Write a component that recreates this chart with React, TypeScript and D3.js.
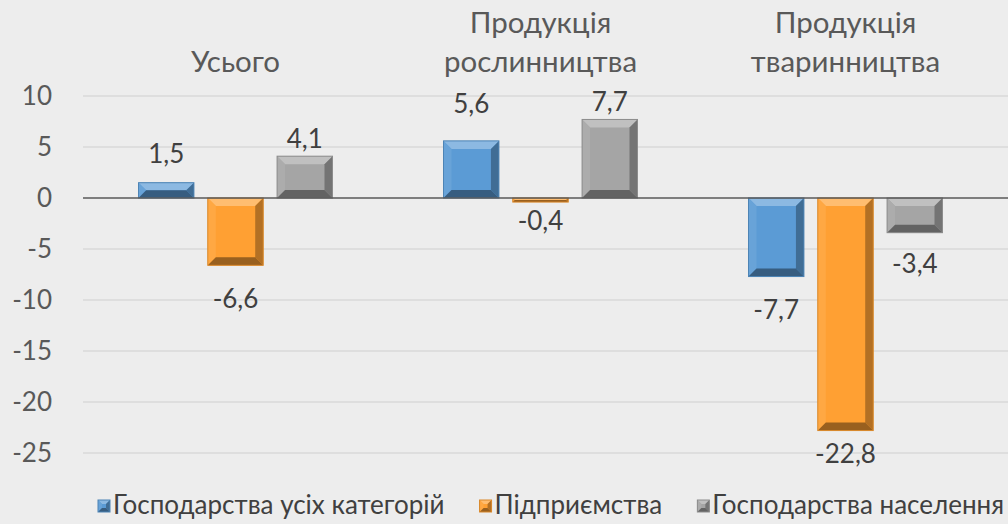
import React, { useEffect, useRef } from 'react';
import * as d3 from 'd3';

const categories = [['Усього'], ['Продукція', 'рослинництва'], ['Продукція', 'тваринництва']];
const seriesNames = ['Господарства усіх категорій', 'Підприємства', 'Господарства населення'];
const allCategories = [1.5, 5.6, -7.7];
const enterprises = [-6.6, -0.4, -22.8];
const households = [4.1, 7.7, -3.4];
const yTicks = [10, 5, 0, -5, -10, -15, -20, -25];
const colors = ['#5B9BD5', '#FFA033', '#A5A5A5'];
// label nudges (px away from the bar end), as placed in the original
const labelGap = [[20, 28, 42], [43, 28, 32], [8, 8, 40]];

const W = 1008;
const H = 524;
const FONT = 'Lato, "Open Sans", sans-serif';

const draw = (svgEl: SVGSVGElement) => {
	const svg = d3.select(svgEl);
	svg.selectAll('*').remove();
	const series = [allCategories, enterprises, households];
	const x = d3.scaleBand<number>().domain([0, 1, 2]).range([83, 998]);
	const inner = d3.scaleBand<number>().domain([0, 1, 2]).range([55.5, 249.5]).paddingInner(0.2);
	const y = d3.scaleLinear().domain([-25, 10]).range([453, 96]);

	svg.append('rect').attr('width', W).attr('height', H).attr('fill', '#EDEDED');

	const g = svg.append('g');
	g.selectAll('line.grid').data(yTicks.filter((t) => t !== 0)).enter()
		.append('line')
		.attr('x1', 83).attr('x2', W)
		.attr('y1', (d) => y(d)).attr('y2', (d) => y(d))
		.attr('stroke', '#D9D9D9').attr('stroke-width', 1.3);

	g.selectAll('text.tick').data(yTicks).enter()
		.append('text')
		.attr('x', 52).attr('y', (d) => y(d) + 9)
		.attr('text-anchor', 'end')
		.attr('font-family', FONT).attr('font-size', 26)
		.attr('fill', '#595959')
		.text((d) => String(d));

	const shade = (c: string, k: number) => (k > 0 ? d3.interpolateRgb(c, '#fff')(k) : d3.interpolateRgb(c, '#000')(-k));

	const bevel = (sel: d3.Selection<SVGGElement, unknown, null, undefined>, x0: number, y0: number, w: number, h: number, c: string, b: number) => {
		const bb = Math.min(b, h / 2, w / 2);
		const x1 = x0 + w;
		const y1 = y0 + h;
		sel.append('rect').attr('x', x0).attr('y', y0).attr('width', w).attr('height', h).attr('fill', c);
		const poly = (pts: number[][], fill: string) => sel.append('polygon')
			.attr('points', pts.map((p) => p.join(',')).join(' ')).attr('fill', fill);
		poly([[x0, y0], [x1, y0], [x1 - bb, y0 + bb], [x0 + bb, y0 + bb]], shade(c, 0.3));
		poly([[x0, y0], [x0 + bb, y0 + bb], [x0 + bb, y1 - bb], [x0, y1]], shade(c, 0.08));
		poly([[x1, y0], [x1, y1], [x1 - bb, y1 - bb], [x1 - bb, y0 + bb]], shade(c, -0.3));
		poly([[x0, y1], [x0 + bb, y1 - bb], [x1 - bb, y1 - bb], [x1, y1]], shade(c, -0.4));
		sel.append('rect').attr('x', x0).attr('y', y0).attr('width', w).attr('height', h)
			.attr('fill', 'none').attr('stroke', shade(c, -0.15)).attr('stroke-width', 1);
	};

	series.forEach((vals, si) => {
		vals.forEach((v, ci) => {
			const bx = (x(ci) as number) + (inner(si) as number);
			const bw = inner.bandwidth();
			const top = y(Math.max(0, v));
			const bh = Math.abs(y(v) - y(0));
			bevel(g.append('g'), bx, top, bw, bh, colors[si], 8);
			const gap = labelGap[si][ci];
			g.append('text')
				.attr('x', bx + bw / 2)
				.attr('y', v >= 0 ? y(v) - gap : y(v) + gap)
				.attr('text-anchor', 'middle')
				.attr('font-family', FONT).attr('font-size', 26)
				.attr('fill', '#404040')
				.text(d3.format('.1f')(v).replace('.', ',').replace('−', '-'));
		});
	});

	g.append('line').attr('x1', 83).attr('x2', W).attr('y1', y(0)).attr('y2', y(0))
		.attr('stroke', '#595959').attr('stroke-width', 1.5);

	categories.forEach((lines, ci) => {
		const cx = (x(ci) as number) + x.bandwidth() / 2;
		lines.forEach((ln, li) => {
			g.append('text')
				.attr('x', cx)
				.attr('y', 72 - (lines.length - 1 - li) * 39)
				.attr('text-anchor', 'middle')
				.attr('font-family', FONT).attr('font-size', 29.5)
				.attr('fill', '#595959')
				.text(ln);
		});
	});

	// legend: measure, then spread between the left start and the right edge
	const lg = svg.append('g');
	const items = seriesNames.map((name, i) => {
		const ig = lg.append('g');
		bevel(ig.append('g'), 0, 500, 12, 12, colors[i], 4);
		const t = ig.append('text')
			.attr('x', 15).attr('y', 514)
			.attr('font-family', FONT).attr('font-size', 26)
			.attr('fill', '#404040')
			.text(name);
		return { ig, w: 15 + (t.node() as SVGTextElement).getComputedTextLength() };
	});
	const start = 98;
	const end = 1004;
	const total = d3.sum(items, (d) => d.w);
	const gap = Math.max(10, (end - start - total) / (items.length - 1));
	let lx = start;
	items.forEach((it) => {
		it.ig.attr('transform', `translate(${ lx },0)`);
		lx += it.w + gap;
	});
};

const App = () => {
	const ref = useRef<SVGSVGElement>(null);
	useEffect(() => {
		if (ref.current) draw(ref.current);
	}, []);
	return (
		<svg ref={ ref } width={ W } height={ H } style={{ position: 'absolute', left: 0, top: 0 }}/>
	);
};

export default App;
